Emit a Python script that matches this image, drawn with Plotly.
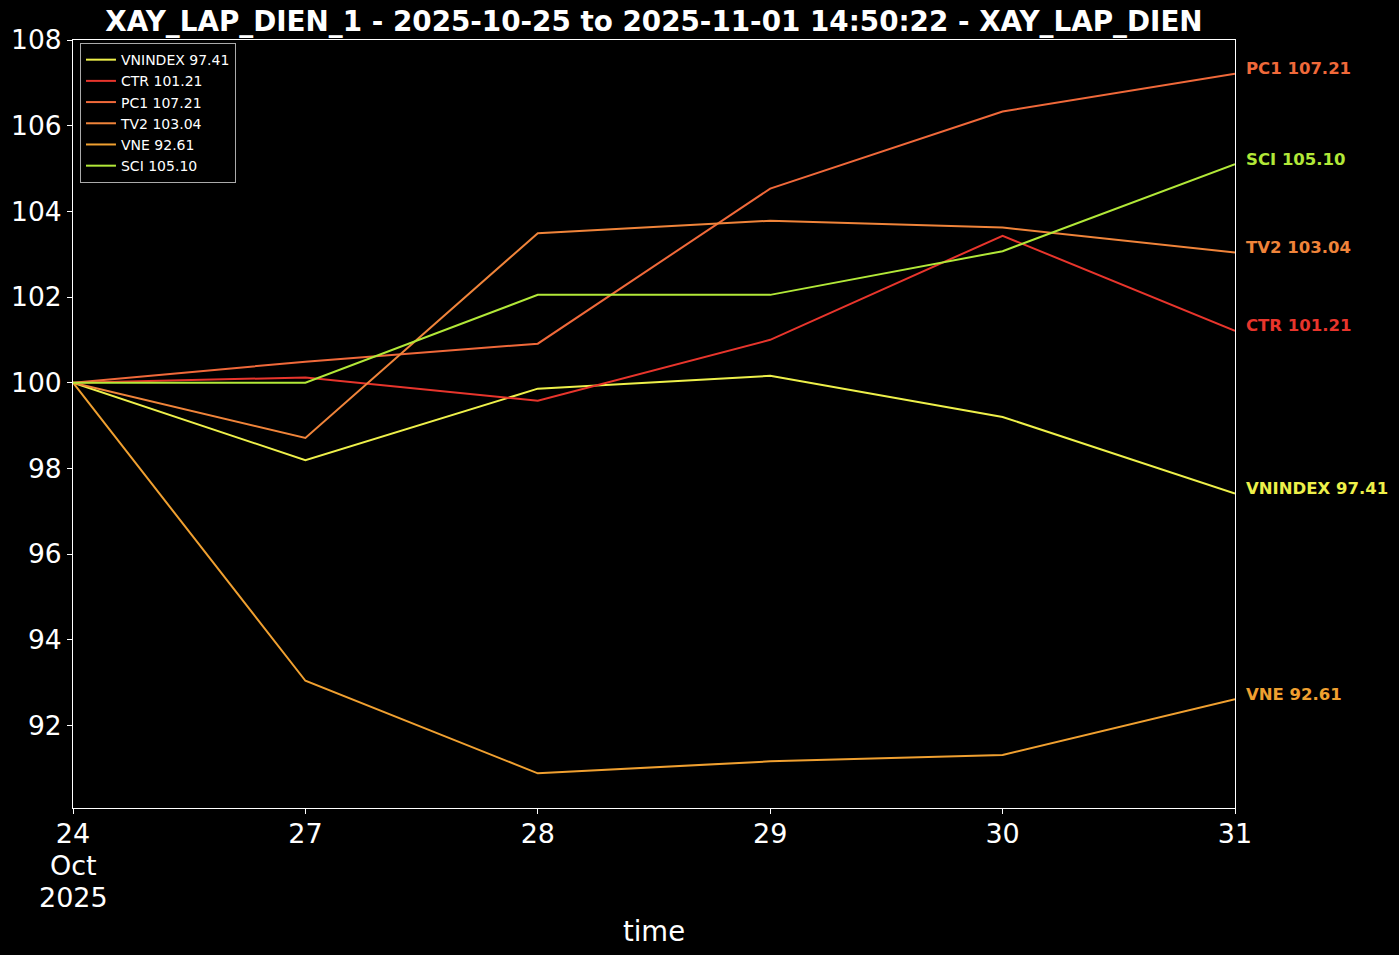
import plotly.graph_objects as go

dates = ["2025-10-24", "2025-10-27", "2025-10-28", "2025-10-29", "2025-10-30", "2025-10-31"]
tick_labels = ["24", "27", "28", "29", "30", "31"]
first_tick_extra = ["Oct", "2025"]

names = ["VNINDEX", "CTR", "PC1", "TV2", "VNE", "SCI"]
vnindex = [100.0, 98.19, 99.86, 100.16, 99.20, 97.41]
ctr = [100.0, 100.12, 99.58, 101.00, 103.43, 101.21]
pc1 = [100.0, 100.49, 100.91, 104.53, 106.33, 107.21]
tv2 = [100.0, 98.71, 103.49, 103.78, 103.62, 103.04]
vne = [100.0, 93.04, 90.88, 91.16, 91.31, 92.61]
sci = [100.0, 100.0, 102.05, 102.05, 103.07, 105.10]
series = [vnindex, ctr, pc1, tv2, vne, sci]
colors = ["#eef04a", "#e8352c", "#f0693a", "#f0843a", "#f0a030", "#b2e838"]

x_idx = list(range(len(dates)))

fig = go.Figure()
for name, vals, col in zip(names, series, colors):
    fig.add_trace(go.Scatter(
        x=x_idx, y=vals, mode="lines", name=f"{name} {vals[-1]:.2f}",
        line=dict(color=col, width=2),
        customdata=dates, hovertemplate="%{customdata}: %{y:.2f}<extra>" + name + "</extra>",
    ))
    fig.add_annotation(
        x=x_idx[-1], y=vals[-1], xref="x", yref="y",
        text=f"<b>{name} {vals[-1]:.2f}</b>", showarrow=False,
        xanchor="left", yanchor="middle", xshift=9, yshift=5,
        font=dict(family="DejaVu Sans", size=16.5, color=col),
    )

# second and third line of the first tick label
for i, txt in enumerate(first_tick_extra):
    fig.add_annotation(
        x=x_idx[0], y=0, xref="x", yref="paper", text=txt, showarrow=False,
        xanchor="center", yanchor="middle", yshift=-(57 + 32 * i),
        font=dict(family="DejaVu Sans", size=27, color="white"),
    )

fig.update_layout(
    width=1399, height=955,
    paper_bgcolor="black", plot_bgcolor="black",
    margin=dict(l=73, r=164, t=40, b=147),
    font=dict(family="DejaVu Sans", color="white"),
    title=dict(
        text="<b>XAY_LAP_DIEN_1 - 2025-10-25 to 2025-11-01 14:50:22 - XAY_LAP_DIEN</b>",
        x=654 / 1399, xanchor="center", y=1 - 21 / 955, yanchor="middle",
        font=dict(size=27.8, color="white", family="DejaVu Sans"),
    ),
    legend=dict(
        x=0.006, y=0.996, xanchor="left", yanchor="top",
        bgcolor="black", bordercolor="#aaaaaa", borderwidth=1,
        font=dict(size=14, color="white"),
        tracegroupgap=0,
    ),
    showlegend=True,
)
fig.update_xaxes(
    range=[0, 5], tickmode="array", tickvals=x_idx, ticktext=tick_labels,
    showgrid=False, zeroline=False, showline=True, linecolor="white", linewidth=1, mirror=True,
    ticks="outside", ticklen=5, tickcolor="white", automargin=False, ticklabelstandoff=-3,
    tickfont=dict(size=27, color="white"),
    title=dict(text="time", font=dict(size=27.5, color="white"), standoff=73),
)
fig.update_yaxes(
    range=[90.07, 108.0], tickmode="array", tickvals=[92, 94, 96, 98, 100, 102, 104, 106, 108],
    showgrid=False, zeroline=False, showline=True, linecolor="white", linewidth=1, mirror=True,
    ticks="outside", ticklen=5, tickcolor="white", automargin=False,
    tickfont=dict(size=26.5, color="white"),
)

fig.write_html(
    "out.html",
    config={"displayModeBar": False},
    post_script="document.body.style.margin='0';document.body.style.background='black';",
)
